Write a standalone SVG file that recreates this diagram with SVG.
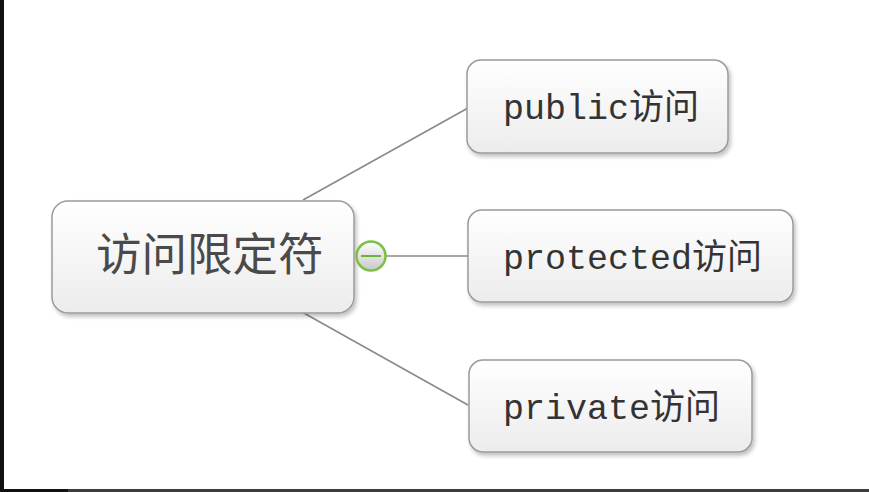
<svg xmlns="http://www.w3.org/2000/svg" width="869" height="492" viewBox="0 0 869 492">
  <defs>
    <linearGradient id="nodeFill" x1="0" y1="0" x2="0" y2="1">
      <stop offset="0" stop-color="#ffffff"/>
      <stop offset="1" stop-color="#ececec"/>
    </linearGradient>
    <linearGradient id="btnFill" x1="0" y1="0" x2="0" y2="1">
      <stop offset="0" stop-color="#ffffff"/>
      <stop offset="1" stop-color="#c8c8c8"/>
    </linearGradient>
    <filter id="shadow" x="-10%" y="-10%" width="125%" height="130%">
      <feGaussianBlur in="SourceAlpha" stdDeviation="2"/>
      <feOffset dx="2" dy="3" result="b"/>
      <feComponentTransfer><feFuncA type="linear" slope="0.25"/></feComponentTransfer>
      <feMerge><feMergeNode/><feMergeNode in="SourceGraphic"/></feMerge>
    </filter>
  </defs>
  <style>
    .box { fill: url(#nodeFill); stroke: #9a9a9a; stroke-width: 1.5; filter: url(#shadow); }
    .conn { stroke: #8a8a8a; stroke-width: 1.6; fill: none; }
    .root { font-family: "Noto Sans CJK SC", "Noto Sans CJK TC", sans-serif; font-size: 45.5px; fill: #4a4a4a; }
    .child { font-family: "Liberation Mono", "Noto Sans CJK SC", monospace; font-size: 35px; fill: #333333; }
  </style>
  <rect x="0" y="0" width="869" height="492" fill="#ffffff"/>
  <rect x="0" y="0" width="4" height="492" fill="#111111"/>
  <rect x="0" y="489" width="68" height="3" fill="#111111"/>
  <rect x="68" y="489" width="801" height="3" fill="#3c3c3c"/>

  <g id="connectors">
    <line class="conn" x1="303" y1="200" x2="468" y2="108"/>
    <line class="conn" x1="386" y1="256" x2="468" y2="256"/>
    <line class="conn" x1="302" y1="312" x2="468" y2="405"/>
  </g>

  <g id="root">
    <rect class="box" x="52" y="201" width="302" height="112" rx="16"/>
    <text class="root" x="96" y="271">访问限定符</text>
  </g>

  <g id="collapse">
    <circle cx="371" cy="256" r="14.5" fill="url(#btnFill)" stroke="#7cc145" stroke-width="2.5"/>
    <line x1="361" y1="256" x2="381" y2="256" stroke="#6cb33a" stroke-width="2"/>
  </g>

  <g id="public">
    <rect class="box" x="467" y="60" width="261" height="93" rx="14"/>
    <text class="child" x="503" y="119">public访问</text>
  </g>

  <g id="protected">
    <rect class="box" x="468" y="210" width="325" height="92" rx="14"/>
    <text class="child" x="503" y="269">protected访问</text>
  </g>

  <g id="private">
    <rect class="box" x="469" y="360" width="283" height="92" rx="14"/>
    <text class="child" x="503" y="419">private访问</text>
  </g>
</svg>
